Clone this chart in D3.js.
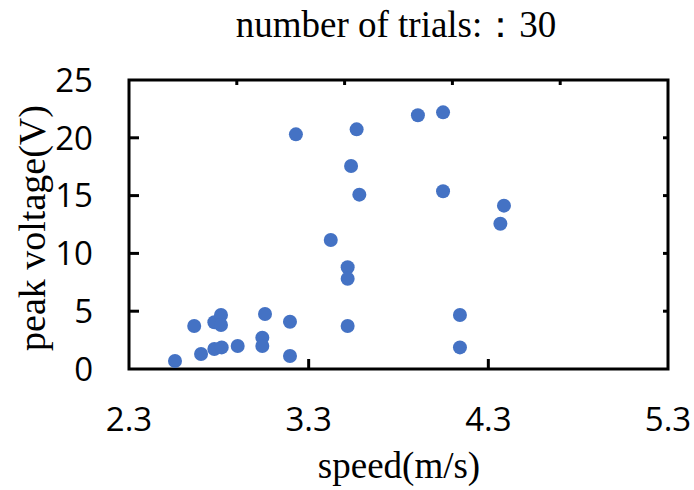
<!DOCTYPE html>
<html>
<head>
<meta charset="utf-8">
<script src="https://d3js.org/d3.v7.min.js"></script>
<style>
  body { margin: 0; background: #fff; }
  svg { display: block; }
</style>
</head>
<body>
<svg width="694" height="490"></svg>
<script>
// data
var speed = [2.556, 2.663, 2.701, 2.775, 2.812, 2.812, 2.775, 2.816, 2.905, 3.042,
             3.042, 3.057, 3.196, 3.196, 3.229, 3.423, 3.517, 3.517, 3.517, 3.536,
             3.567, 3.582, 3.908, 4.048, 4.048, 4.387, 4.367, 4.142, 4.142];
var voltage = [0.69, 3.72, 1.30, 4.04, 4.67, 3.80, 1.73, 1.87, 1.99, 2.71,
               1.99, 4.76, 4.09, 1.12, 20.3, 11.16, 8.8, 7.81, 3.72, 17.56,
               20.73, 15.08, 21.95, 22.2, 15.37, 14.13, 12.57, 4.67, 1.87];
var xTicks = [2.3, 3.3, 4.3, 5.3];
var yTicks = [0, 5, 10, 15, 20, 25];
var topTicks = [2.9, 3.5, 4.1, 4.7];

var svg = d3.select('svg');

var x = d3.scaleLinear().domain([2.3, 5.3]).range([129, 668]);
var y = d3.scaleLinear().domain([0, 25]).range([369, 80]);

var points = speed.map(function(s, i) { return { s: s, v: voltage[i] }; });

// title
svg.append('text')
    .attr('x', 396).attr('y', 37)
    .attr('text-anchor', 'middle')
    .style('font-family', '"Liberation Serif", serif')
    .style('font-size', '37px')
    .text('number of trials:：30');

// frame
svg.append('rect')
    .attr('x', x(2.3)).attr('y', y(25))
    .attr('width', x(5.3) - x(2.3)).attr('height', y(0) - y(25))
    .attr('fill', 'none')
    .attr('stroke', '#000')
    .attr('stroke-width', 3);

// inner ticks
var ticks = svg.append('g').attr('stroke', '#000').attr('stroke-width', 3);
ticks.selectAll('.lt').data(yTicks.slice(1, -1)).enter().append('line')
    .attr('x1', x(2.3)).attr('x2', x(2.3) + 10)
    .attr('y1', function(d) { return y(d); }).attr('y2', function(d) { return y(d); });
ticks.selectAll('.rt').data(yTicks.slice(1, -1)).enter().append('line')
    .attr('x1', x(5.3)).attr('x2', x(5.3) - 5)
    .attr('y1', function(d) { return y(d); }).attr('y2', function(d) { return y(d); });
ticks.selectAll('.bt').data(xTicks.slice(1, -1)).enter().append('line')
    .attr('x1', function(d) { return x(d); }).attr('x2', function(d) { return x(d); })
    .attr('y1', y(0)).attr('y2', y(0) - 10);
ticks.selectAll('.tt').data(topTicks).enter().append('line')
    .attr('x1', function(d) { return x(d); }).attr('x2', function(d) { return x(d); })
    .attr('y1', y(25)).attr('y2', y(25) + 5);

// tick labels
svg.selectAll('.xl').data(xTicks).enter().append('text')
    .attr('x', function(d) { return x(d); })
    .attr('y', 431)
    .attr('text-anchor', 'middle')
    .style('font-family', '"Open Sans", sans-serif')
    .style('font-size', '33px')
    .text(function(d) { return d.toFixed(1); });

svg.selectAll('.yl').data(yTicks).enter().append('text')
    .attr('x', 93)
    .attr('y', function(d) { return y(d); })
    .attr('dy', '0.36em')
    .attr('text-anchor', 'end')
    .style('font-family', '"Open Sans", sans-serif')
    .style('font-size', '33px')
    .text(function(d) { return d; });

// axis titles
svg.append('text')
    .attr('x', 399).attr('y', 478)
    .attr('text-anchor', 'middle')
    .style('font-family', '"Liberation Serif", serif')
    .style('font-size', '37px')
    .text('speed(m/s)');

svg.append('text')
    .attr('transform', 'translate(45,228) rotate(-90)')
    .attr('text-anchor', 'middle')
    .style('font-family', '"Liberation Serif", serif')
    .style('font-size', '38px')
    .text('peak voltage(V)');

// points
svg.selectAll('circle')
    .data(points)
    .enter()
    .append('circle')
    .attr('cx', function(d) { return x(d.s); })
    .attr('cy', function(d) { return y(d.v); })
    .attr('r', 7)
    .attr('fill', '#4472C4');
</script>
</body>
</html>
